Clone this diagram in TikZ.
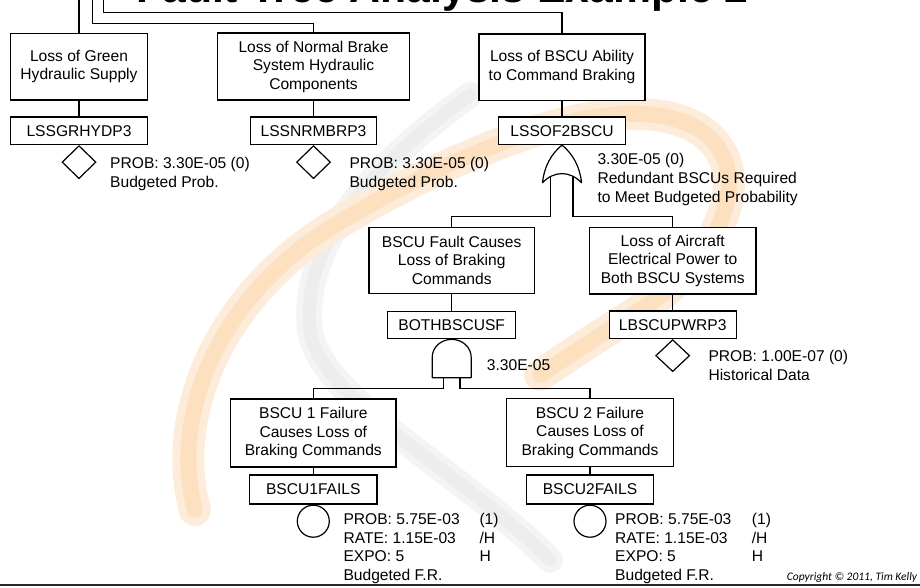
\documentclass[tikz,border=0pt]{standalone}
\usepackage{fontspec}
\setmainfont{Liberation Sans}
\newfontfamily\copyfont{Carlito}
\usetikzlibrary{shapes.geometric}

\definecolor{wmorange}{RGB}{253,236,218}
\definecolor{wmorangecore}{RGB}{252,224,192}
\definecolor{wmgrey}{RGB}{244,244,244}
\definecolor{wmgreycore}{RGB}{237,237,237}
\definecolor{rule}{RGB}{40,40,40}

\begin{document}
\begin{tikzpicture}[x=1pt,y=-1pt,
  txt/.style={font=\fontsize{15.6}{18.5}\selectfont},
  evbox/.style={draw, line width=1.2pt, fill=white, inner sep=0pt, align=center, txt},
  idbox/.style={evbox, minimum height=27.5pt},
  diam/.style={draw, line width=1.2pt, fill=white, diamond, inner sep=0pt, minimum width=34pt, minimum height=33pt, anchor=north},
  basic/.style={draw, line width=1.2pt, fill=white, circle, inner sep=0pt, minimum size=32pt, anchor=north},
  gate/.style={draw, line width=1.2pt, fill=white, line join=round},
  wire/.style={line width=1.2pt},
  note/.style={txt, anchor=base west, inner sep=0pt, align=left},
  headline/.style={anchor=base west, inner sep=0pt, font=\fontsize{42.7}{46}\selectfont\bfseries}
]
\useasboundingbox (0,0) rectangle (920,588);

\begin{scope}
\clip (0,0) rectangle (920,588);
% faded logo behind the tree
\foreach \w/\c in {26/wmgrey, 13/wmgreycore}
  \draw[\c, line width=\w pt, line cap=round]
    (470,95) .. controls (380,160) and (300,240) .. (310,330)
    .. controls (320,400) and (460,470) .. (550,560);
\foreach \w/\c in {32/wmorange, 16/wmorangecore}
  \draw[\c, line width=\w pt, line cap=round]
    (195,510) .. controls (170,420) and (215,300) .. (330,228)
    .. controls (450,155) and (620,80) .. (700,130)
    .. controls (760,170) and (720,260) .. (640,310)
    .. controls (600,335) and (570,355) .. (540,375);
% slide heading
\node[headline] (heading) at (136,2.5) {Fault Tree Analysis Example 2};
\end{scope}

% rule along the foot of the slide
\draw[rule, line width=2pt] (0,585) -- (920,585);

% events
\node[evbox, minimum width=137.3pt, minimum height=66.7pt] (green) at (79,66.7) {Loss of Green\\Hydraulic Supply};
\node[evbox, minimum width=192.7pt, minimum height=67pt] (normal) at (313.5,66.5) {Loss of Normal Brake\\System Hydraulic\\Components};
\node[evbox, minimum width=166pt, minimum height=66.3pt] (bscuab) at (562,67.2) {Loss of BSCU Ability\\to Command Braking};
\node[idbox, minimum width=137.3pt] (greenid) at (79,130.7) {LSSGRHYDP3};
\node[idbox, minimum width=126.7pt] (normalid) at (313.5,130.7) {LSSNRMBRP3};
\node[idbox, minimum width=126.7pt] (bscuabid) at (562,130.7) {LSSOF2BSCU};
\node[evbox, minimum width=165.3pt, minimum height=66pt] (fault) at (451.7,260.3) {BSCU Fault Causes\\Loss of Braking\\Commands};
\node[evbox, minimum width=166.7pt, minimum height=66.7pt] (power) at (672.7,260.7) {Loss of Aircraft\\Electrical Power to\\Both BSCU Systems};
\node[idbox, minimum width=127.7pt] (faultid) at (451.7,325) {BOTHBSCUSF};
\node[idbox, minimum width=127pt] (powerid) at (672.7,324.7) {LBSCUPWRP3};
\node[evbox, minimum width=165.3pt, minimum height=68pt] (one) at (313.3,433) {BSCU 1 Failure\\Causes Loss of\\Braking Commands};
\node[evbox, minimum width=166.7pt, minimum height=68pt] (two) at (590,432.7) {BSCU 2 Failure\\Causes Loss of\\Braking Commands};
\node[idbox, minimum width=127.4pt, minimum height=29pt] (oneid) at (313.3,489.5) {BSCU1FAILS};
\node[idbox, minimum width=126.7pt, minimum height=29pt] (twoid) at (590,489.5) {BSCU2FAILS};

% undeveloped and basic events
\node[diam] (greenev) at (greenid.south) {};
\node[diam] (normalev) at (normalid.south) {};
\node[diam, minimum height=32pt] (powerev) at (powerid.south) {};
\node[basic] (oneev) at (oneid.south) {};
\node[basic] (twoev) at (twoid.south) {};

% connectors between events
\coordinate (topA) at (79,0);
\coordinate (topB) at (92.3,0);
\coordinate (topC) at (103.3,0);
\draw[wire] (topA) -- (green.north);
\draw[wire] (topB) -- ++(0,23.3) -| (normal.north);
\draw[wire] (topC) -- ++(0,12.3) -| (bscuab.north);
\draw[wire] (green.south) -- (greenid.north);
\draw[wire] (normal.south) -- (normalid.north);
\draw[wire] (bscuab.south) -- (bscuabid.north);
\draw[wire] (fault.south) -- (faultid.north);
\draw[wire] (power.south) -- (powerid.north);
\draw[wire] (one.south) -- (oneid.north);
\draw[wire] (two.south) -- (twoid.north);

% OR gate
\begin{scope}[shift={(bscuabid.south)}]
  \coordinate (orL) at (-11.4,31);
  \coordinate (orR) at (11,31);
  \draw[wire] (orL) -- ++(0,40.7) -| (fault.north);
  \draw[wire] (orR) -- ++(0,40.7) -| (power.north);
  \draw[gate] (0,0) .. controls (-11,9) and (-18,22) .. (-19.5,37.7)
    .. controls (-8,25.5) and (8,25.5) .. (19.5,37.7)
    .. controls (18,22) and (11,9) .. (0,0) -- cycle;
\end{scope}

% AND gate
\begin{scope}[shift={(faultid.south)}]
  \coordinate (andL) at (-8.3,38.3);
  \coordinate (andR) at (8.3,38.3);
  \draw[wire] (andL) -- ++(0,10.8) -| (one.north);
  \draw[wire] (andR) -- ++(0,10.8) -| (two.north);
  \draw[gate] (-19.5,38.3) -- (-19.5,18)
    arc[start angle=180, end angle=360, x radius=19.5, y radius=18]
    -- (19.5,38.3) -- cycle;
\end{scope}

% annotations (anchored on the baseline of their last line)
\node[note] (lblA) at (110,187) {PROB: 3.30E-05 (0)\\Budgeted Prob.};
\node[note] (lblB) at (349.3,187) {PROB: 3.30E-05 (0)\\Budgeted Prob.};
\node[note] (lblOR) at (597.3,202) {3.30E-05 (0)\\Redundant BSCUs Required\\to Meet Budgeted Probability};
\node[note] (lblAND) at (486.7,370.7) {3.30E-05};
\node[note] (lblP) at (708.3,380.2) {PROB: 1.00E-07 (0)\\Historical Data};
\node[note] (lbl1) at (343.3,580.3) {PROB: 5.75E-03\\RATE: 1.15E-03\\EXPO: 5\\Budgeted F.R.};
\node[note] (lbl1u) at (479.3,561.8) {(1)\\/H\\H};
\node[note] (lbl2) at (615,580.3) {PROB: 5.75E-03\\RATE: 1.15E-03\\EXPO: 5\\Budgeted F.R.};
\node[note] (lbl2u) at (751.7,561.8) {(1)\\/H\\H};
\node[anchor=base west, inner sep=0pt, font=\copyfont\itshape\fontsize{11.5}{13}\selectfont] (copy) at (786.7,580) {Copyright \textcopyright{} 2011, Tim Kelly};
\end{tikzpicture}
\end{document}
